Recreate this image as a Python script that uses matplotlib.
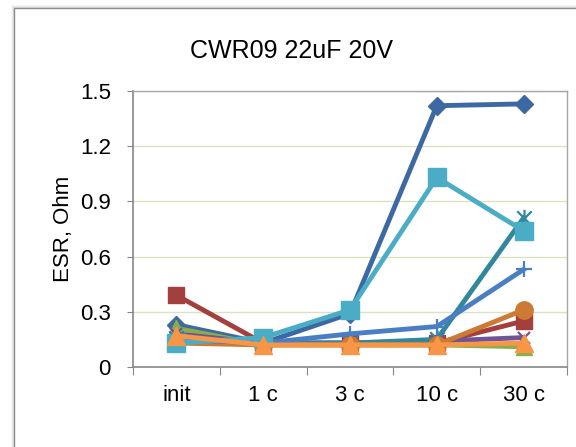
import matplotlib
matplotlib.use("Agg")
import matplotlib.pyplot as plt
from matplotlib.path import Path
from matplotlib.patches import Rectangle
import numpy as np

plt.rcParams['font.family'] = ['Liberation Sans', 'DejaVu Sans']

title = "CWR09 22uF 20V"
ylabel = "ESR, Ohm"
categories = ["init", "1 c", "3 c", "10 c", "30 c"]
yticks = [0, 0.3, 0.6, 0.9, 1.2, 1.5]
ytick_labels = ["0", "0.3", "0.6", "0.9", "1.2", "1.5"]

s1 = [0.23, 0.13, 0.29, 1.42, 1.43]   # dark blue diamond
s2 = [0.39, 0.13, 0.13, 0.13, 0.25]   # red square
s3 = [0.21, 0.12, 0.12, 0.12, 0.11]   # green triangle
s4 = [0.18, 0.13, 0.13, 0.14, 0.16]   # purple x
s5 = [0.16, 0.13, 0.13, 0.15, 0.81]   # teal star
s6 = [0.13, 0.12, 0.12, 0.12, 0.31]   # brown-orange circle
s7 = [0.15, 0.13, 0.18, 0.22, 0.53]   # blue plus
s8 = [0.13, 0.16, 0.31, 1.03, 0.74]   # light teal square
s9 = [0.17, 0.12, 0.12, 0.12, 0.13]   # orange triangle

star = Path([(-0.5, -0.5), (0.5, 0.5), (-0.5, 0.5), (0.5, -0.5), (0, -0.6), (0, 0.6)],
            [Path.MOVETO, Path.LINETO, Path.MOVETO, Path.LINETO, Path.MOVETO, Path.LINETO])

series = [
    (s1, '#3D69A2', 'D', 9.0, True),
    (s2, '#A33F3C', 's', 12.0, True),
    (s3, '#8AAE4B', '^', 12.0, True),
    (s4, '#6E5598', 'x', 8.5, False),
    (s5, '#31879C', star, 12.5, False),
    (s6, '#CC7A34', 'o', 12.5, True),
    (s7, '#4A7EC4', '+', 11.5, False),
    (s8, '#4BACC6', 's', 12.5, True),
    (s9, '#F79646', '^', 13.0, True),
]

fig = plt.figure(figsize=(5.76, 4.47), dpi=100)
fig.patch.set_facecolor('white')
W, H = 576, 447
# shadow and chart frame
for i, a in enumerate([0.04, 0.04, 0.05]):
    off = 3 - i
    fig.add_artist(Rectangle(((14 - off) / W, 0), 1, (447 - 8 + off) / H,
                             transform=fig.transFigure, facecolor='#000000',
                             alpha=a, edgecolor='none', zorder=0))
fig.add_artist(Rectangle((14 / W, -0.01), 1, (447 - 8) / H + 0.01,
                         transform=fig.transFigure, facecolor='white',
                         edgecolor='#8c8c8c', linewidth=1, zorder=1))

ax = fig.add_axes([133 / W, (H - 367) / H, (567 - 133) / W, (367 - 91) / H])
ax.set_zorder(2)
ax.patch.set_alpha(0)
x = np.arange(len(categories)) + 0.5
for vals, c, m, ms, filled in series:
    if filled:
        ax.plot(x, vals, color=c, lw=3.5, marker=m, markersize=ms,
                markerfacecolor=c, markeredgecolor=c, solid_joinstyle='round', clip_on=False)
    else:
        ax.plot(x, vals, color=c, lw=3.5, marker=m, markersize=ms,
                markeredgewidth=1.6, markeredgecolor=c, fillstyle='none', clip_on=False)

ax.set_xlim(0, 5)
ax.set_ylim(0, 1.5)
ax.set_yticks(yticks)
ax.set_yticklabels(ytick_labels)
ax.set_xticks(np.arange(0, 6))
ax.set_xticklabels([])
ax.set_xticks(x, minor=True)
ax.set_xticklabels(categories, minor=True)
ax.tick_params(axis='x', which='major', length=6, color='#868686', direction='out')
ax.tick_params(axis='x', which='minor', length=0, pad=13, labelsize=16)
ax.tick_params(axis='y', length=4, color='#868686', pad=12, labelsize=16)
ax.grid(axis='y', color='#D7E4BD', lw=1)
ax.set_axisbelow(True)
for sp in ['left', 'bottom']:
    ax.spines[sp].set_color('#868686')
    ax.spines[sp].set_linewidth(1.2)
for sp in ['top', 'right']:
    ax.spines[sp].set_color('#a6a6a6')
    ax.spines[sp].set_linewidth(1)
ax.set_ylabel(ylabel, fontsize=16, labelpad=4)
fig.text(292 / W, 1 - 51 / H, title, ha='center', va='center', fontsize=18)

fig.savefig('out.png', dpi=100)
